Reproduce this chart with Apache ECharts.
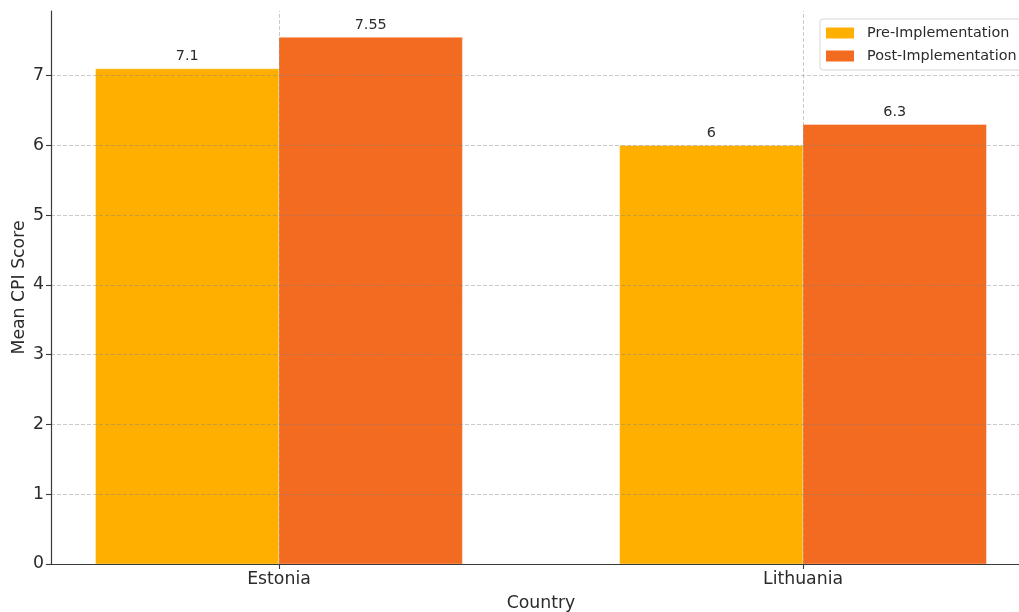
<!DOCTYPE html>
<html>
<head>
<meta charset="utf-8">
<script src="https://cdn.jsdelivr.net/npm/echarts@6/dist/echarts.min.js"></script>
<style>
  html, body { margin: 0; padding: 0; background: #fff; }
  #chart { width: 1019px; height: 612px; }
</style>
</head>
<body>
<div id="chart"></div>
<script>
// Mean CPI score per country, before and after implementation
const countries = ['Estonia', 'Lithuania'];
const preScores = [7.1, 6.0];
const postScores = [7.55, 6.3];
const seriesNames = ['Pre-Implementation', 'Post-Implementation'];
const yTicks = [0, 1, 2, 3, 4, 5, 6, 7];

const FONT = 'DejaVu Sans';
const TEXT = '#2b2b2b';
const GRID = 'rgba(128,128,128,0.42)';
const BAR_W = 0.35;                      // bar width in category units
const COLORS = ['#FFAF00', '#F36A21'];

// axis limits with a 5% margin, like a default plot
const yMax = Math.max(...preScores, ...postScores) * 1.05;
const xSpan = (countries.length - 1) + 2 * BAR_W;
const xMin = -BAR_W - xSpan * 0.05;
const xMax = (countries.length - 1) + BAR_W + xSpan * 0.05;
const catIdx = countries.map((_, i) => i);

function barSeries(name, values, slot, color) {
  return {
    type: 'custom',
    name: name,
    data: values.map((v, i) => [i, v]),
    encode: { x: 0, y: 1 },
    itemStyle: { color: color },
    z: 2,
    renderItem(params, api) {
      const c = api.value(0);
      const v = api.value(1);
      // slot 0 sits left of the category centre, slot 1 right of it
      const x0 = c + (slot - 1) * BAR_W;
      const tl = api.coord([x0, v]);
      const br = api.coord([x0 + BAR_W, 0]);
      return {
        type: 'group',
        children: [
          {
            type: 'rect',
            shape: { x: tl[0], y: tl[1], width: br[0] - tl[0], height: br[1] - tl[1] },
            style: { fill: color, stroke: 'rgba(255,255,255,0.35)', lineWidth: 1 }
          },
          {
            type: 'text',
            style: {
              text: String(v),
              x: (tl[0] + br[0]) / 2,
              y: tl[1] - 5,
              align: 'center',
              verticalAlign: 'bottom',
              fill: TEXT,
              fontSize: 14.4,
              fontFamily: FONT
            }
          }
        ]
      };
    }
  };
}

const chart = echarts.init(document.getElementById('chart'), null, { renderer: 'canvas' });

const preSeries = barSeries(seriesNames[0], preScores, 0, COLORS[0]);
// vertical grid lines at the category centres, drawn over the bars
preSeries.markLine = {
  silent: true,
  symbol: 'none',
  animation: false,
  label: { show: false },
  lineStyle: { color: GRID, type: [4, 2], width: 1 },
  data: catIdx.map(i => ({ xAxis: i })),
  z: 5
};

chart.setOption({
  animation: false,
  backgroundColor: '#fff',
  textStyle: { fontFamily: FONT },
  grid: { left: 51, right: -12, top: 11, bottom: 48, outerBoundsMode: 'none', containLabel: false },
  legend: {
    data: seriesNames,
    orient: 'vertical',
    left: 820,
    top: 19,
    icon: 'rect',
    itemWidth: 28,
    itemHeight: 11,
    itemGap: 9,
    padding: [7, 6, 7, 6],
    borderColor: '#d6d6d6',
    borderWidth: 1,
    borderRadius: 3,
    backgroundColor: 'rgba(255,255,255,0.8)',
    textStyle: { color: TEXT, fontSize: 14.4, fontFamily: FONT, lineHeight: 14, padding: [0, 0, 0, 8] }
  },
  xAxis: {
    type: 'value',
    min: xMin,
    max: xMax,
    name: 'Country',
    nameLocation: 'middle',
    nameGap: 31,
    nameMoveOverlap: false,
    nameTextStyle: { color: TEXT, fontSize: 17.3, fontFamily: FONT },
    z: 4,
    axisLine: { show: true, onZero: false, lineStyle: { color: '#3a3a3a', width: 1.2 } },
    axisTick: { show: true, length: 5, customValues: catIdx, lineStyle: { color: '#3a3a3a', width: 1.1 } },
    axisLabel: {
      customValues: catIdx,
      margin: 7,
      color: TEXT,
      fontSize: 17.3,
      fontFamily: FONT,
      formatter: v => countries[Math.round(v)] || ''
    },
    splitLine: { show: false }
  },
  yAxis: {
    type: 'value',
    min: 0,
    max: yMax,
    name: 'Mean CPI Score',
    nameLocation: 'middle',
    nameGap: 23,
    nameMoveOverlap: false,
    nameTextStyle: { color: TEXT, fontSize: 17.3, fontFamily: FONT },
    z: 4,
    axisLine: { show: true, onZero: false, lineStyle: { color: '#3a3a3a', width: 1.2 } },
    axisTick: { show: true, length: 5, customValues: yTicks, lineStyle: { color: '#3a3a3a', width: 1.1 } },
    axisLabel: {
      customValues: yTicks,
      margin: 7,
      color: TEXT,
      fontSize: 17.3,
      fontFamily: FONT,
      formatter: v => String(v)
    },
    splitLine: {
      show: true,
      showMinLine: false,
      lineStyle: { color: GRID, type: [4, 2], width: 1 }
    }
  },
  series: [
    preSeries,
    barSeries(seriesNames[1], postScores, 1, COLORS[1])
  ]
});
</script>
</body>
</html>
